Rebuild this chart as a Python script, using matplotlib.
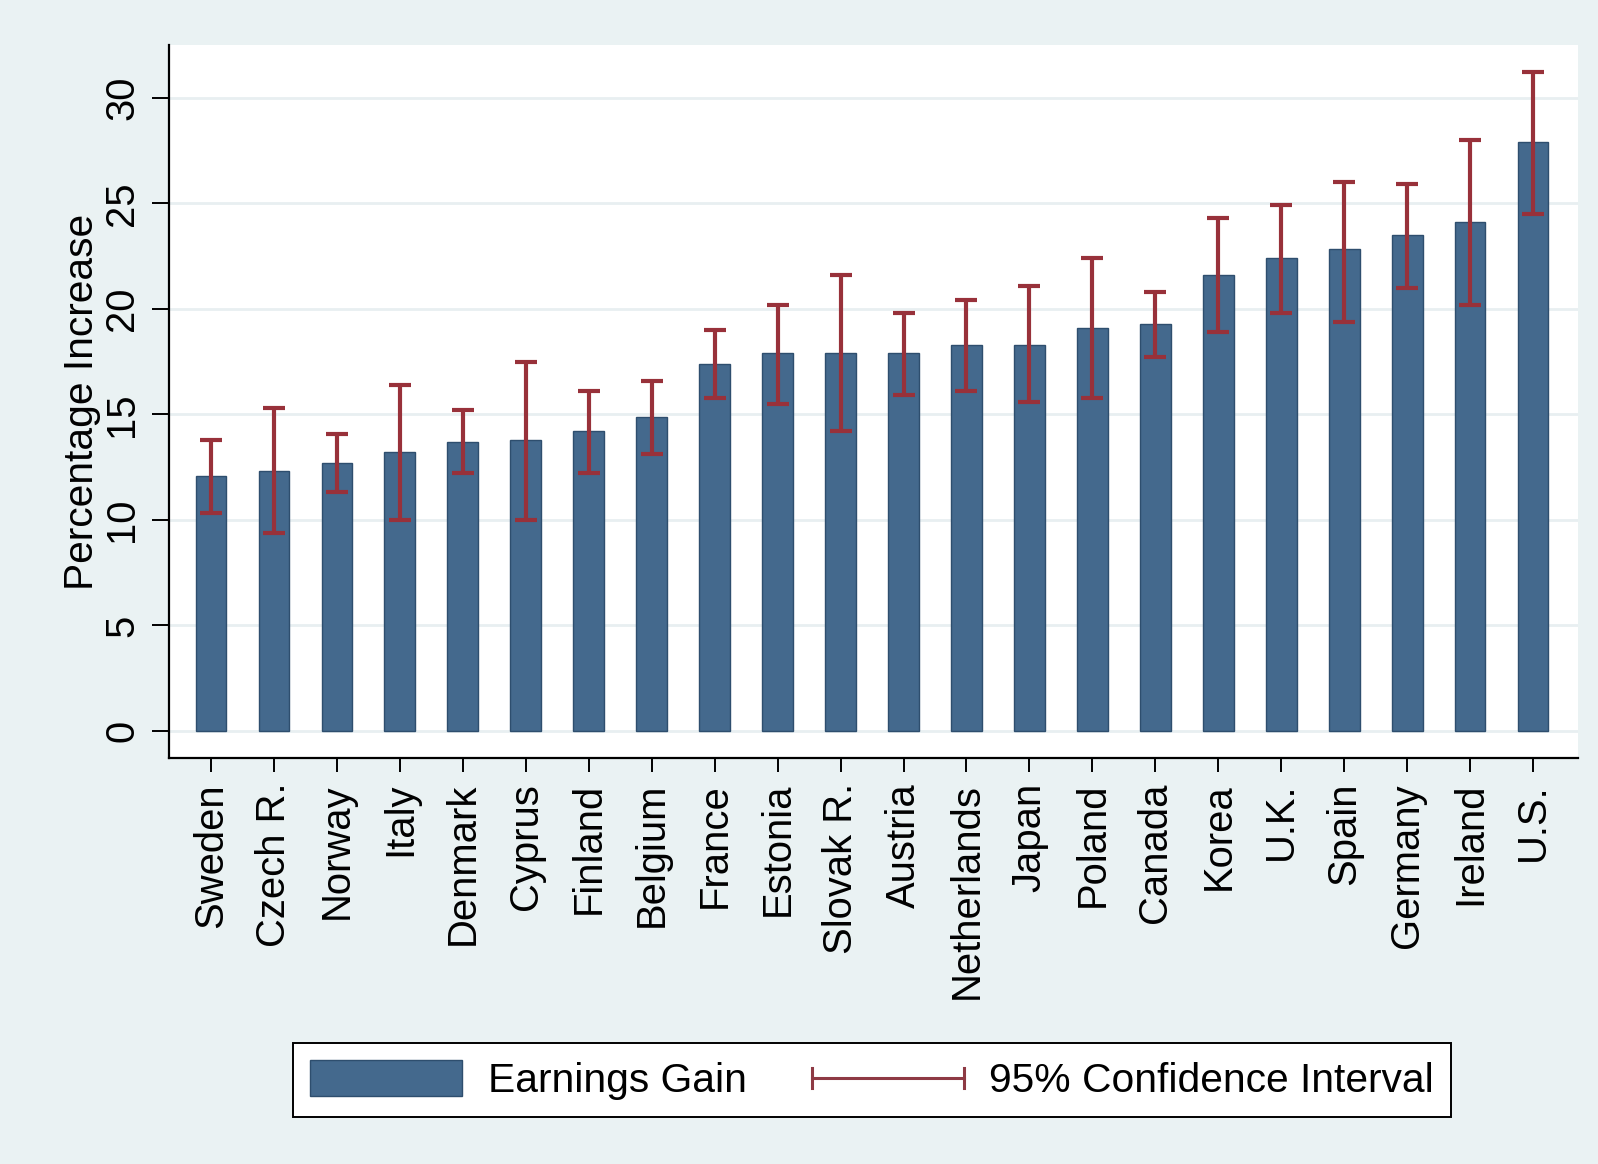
import matplotlib
matplotlib.use("Agg")
import matplotlib.pyplot as plt
from matplotlib.lines import Line2D
from matplotlib.patches import Patch
from matplotlib.legend_handler import HandlerBase
import numpy as np

countries = ["Sweden", "Czech R.", "Norway", "Italy", "Denmark", "Cyprus",
             "Finland", "Belgium", "France", "Estonia", "Slovak R.", "Austria",
             "Netherlands", "Japan", "Poland", "Canada", "Korea", "U.K.",
             "Spain", "Germany", "Ireland", "U.S."]
gain = [12.1, 12.3, 12.7, 13.2, 13.7, 13.8, 14.2, 14.9, 17.4, 17.9, 17.9,
        17.9, 18.3, 18.3, 19.1, 19.3, 21.6, 22.4, 22.85, 23.5, 24.1, 27.9]
ci_low = [10.35, 9.4, 11.3, 10.0, 12.2, 10.0, 12.2, 13.1, 15.8, 15.5, 14.2,
          15.9, 16.1, 15.6, 15.8, 17.7, 18.9, 19.8, 19.4, 21.0, 20.2, 24.5]
ci_high = [13.8, 15.3, 14.05, 16.4, 15.2, 17.5, 16.1, 16.6, 19.0, 20.2, 21.6,
           19.8, 20.4, 21.1, 22.4, 20.8, 24.3, 24.9, 26.0, 25.9, 28.0, 31.2]
yticks = [0, 5, 10, 15, 20, 25, 30]

BG = "#EAF2F3"
BAR = "#44698D"
BAR_EDGE = "#2E4E6E"
CI = "#98313A"
FS = 28.8

plt.rcParams["font.family"] = ["Liberation Sans", "DejaVu Sans"]


class HandlerCI(HandlerBase):
    """Horizontal error bar with end caps, as in the legend key."""

    def create_artists(self, legend, orig_handle, xdescent, ydescent,
                       width, height, fontsize, trans):
        y = height / 2 - ydescent
        x0, x1 = -xdescent, width - xdescent
        cap = height * 0.28
        kw = dict(color=orig_handle.get_color(), lw=2.2, transform=trans)
        return [Line2D([x0, x1], [y, y], **kw),
                Line2D([x0, x0], [y - cap, y + cap], **kw),
                Line2D([x1, x1], [y - cap, y + cap], **kw)]


fig = plt.figure(figsize=(15.98, 11.64), dpi=100, facecolor=BG)
ax = fig.add_axes([0.1058, 0.3488, 0.8817, 0.6125])
ax.set_facecolor("white")

x = np.arange(len(countries))
gain_a = np.array(gain)
yerr = [gain_a - np.array(ci_low), np.array(ci_high) - gain_a]

ax.bar(x, gain, width=0.49, color=BAR, edgecolor=BAR_EDGE, linewidth=1.0,
       zorder=2)
ax.errorbar(x, gain, yerr=yerr, fmt="none", ecolor=CI, elinewidth=3.0,
            capsize=8, capthick=3.0, zorder=3)

ax.set_xlim(-0.667, len(countries) - 1 + 0.715)
ax.set_ylim(-1.28, 32.5)
ax.set_yticks(yticks)
ax.set_xticks(x)
ax.set_xticklabels(countries, rotation=90, fontsize=FS)
for lab in ax.get_yticklabels():
    lab.set_rotation(90)
    lab.set_va("center")
    lab.set_fontsize(FS)

ax.yaxis.grid(True, color="#E8EFF1", linewidth=2.0, zorder=0)
ax.set_axisbelow(True)
for side in ("top", "right"):
    ax.spines[side].set_visible(False)
for side in ("left", "bottom"):
    ax.spines[side].set_linewidth(1.6)
ax.tick_params(axis="y", length=12, width=1.4, pad=8)
ax.tick_params(axis="x", length=10, width=1.4, pad=8)

ax.set_ylabel("Percentage Increase", fontsize=29.3)
ax.yaxis.set_label_coords(-0.048, 0.5)

handles = [Patch(facecolor=BAR, edgecolor=BAR_EDGE, linewidth=1.0),
           Line2D([], [], color="#8E3A44")]
leg = fig.legend(handles, ["Earnings Gain", "95% Confidence Interval"],
                 handler_map={Line2D: HandlerCI()},
                 loc="center", bbox_to_anchor=(0.5457, 0.0722), ncol=2,
                 fontsize=29.3, frameon=True, fancybox=False,
                 handlelength=3.75, handleheight=1.0, handletextpad=0.62,
                 columnspacing=1.6, borderpad=0.42, borderaxespad=0)
leg.get_frame().set_edgecolor("black")
leg.get_frame().set_linewidth(1.4)
leg.get_frame().set_facecolor("white")
leg.get_frame().set_alpha(1.0)

fig.savefig("out.png", dpi=100, facecolor=BG)
